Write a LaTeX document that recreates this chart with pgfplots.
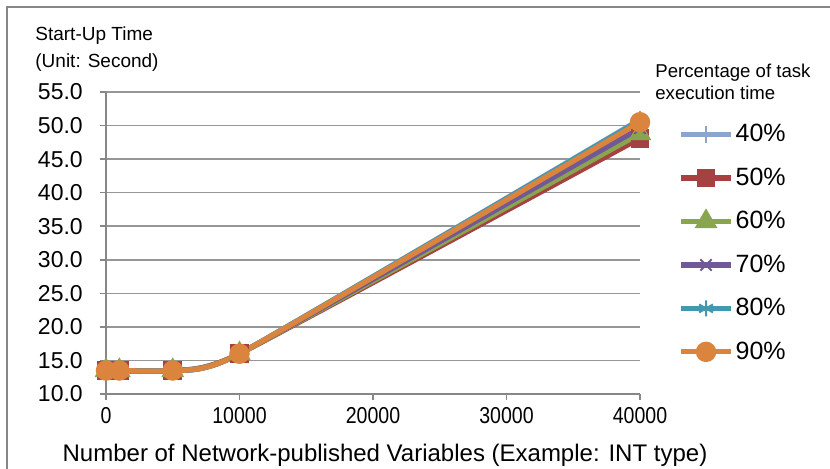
\documentclass[border=0pt]{standalone}
\usepackage{fontspec}
\setmainfont{Liberation Sans}
\newfontfamily\narrowfont[FakeStretch=0.85]{Liberation Sans}
\usepackage{pgfplots}
\pgfplotsset{compat=1.18}
\definecolor{cA}{RGB}{140,165,205}
\definecolor{cB}{RGB}{165,65,65}
\definecolor{cC}{RGB}{137,165,78}
\definecolor{cD}{RGB}{113,88,150}
\definecolor{cE}{RGB}{65,152,175}
\definecolor{cF}{RGB}{219,132,61}
\definecolor{gridc}{RGB}{150,150,150}
\definecolor{axc}{RGB}{135,135,135}
\begin{document}
\begin{tikzpicture}
\useasboundingbox (0,0) rectangle (415pt,234.5pt);
\draw[axc, line width=0.8pt] (3.5pt,-2pt) -- (3.5pt,231pt) -- (420pt,231pt);
\begin{axis}[
  at={(53pt,37.5pt)}, anchor=south west,
  width=267pt, height=151pt, scale only axis,
  xmin=0, xmax=40000, ymin=10, ymax=55,
  xtick={0,10000,20000,30000,40000},
  ytick={10,15,20,25,30,35,40,45,50,55},
  axis x line*=bottom, axis y line*=left,
  axis line style={axc, line width=0.8pt, -},
  ymajorgrids, grid style={gridc, line width=0.8pt},
  tick style={axc, line width=0.8pt},
  tick align=outside, major tick length=3pt,
  scaled x ticks=false,
  xticklabel style={font=\narrowfont\fontsize{11.5}{13}\selectfont, /pgf/number format/fixed, /pgf/number format/set thousands separator={}, /pgf/number format/assume math mode=true},
  yticklabel style={font=\fontsize{11.5}{13}\selectfont, anchor=east, xshift=-5.1pt, /pgf/number format/fixed, /pgf/number format/fixed zerofill, /pgf/number format/precision=1, /pgf/number format/assume math mode=true},
  legend style={at={(1.06,0.914)}, anchor=north west, draw=none, fill=none,
    font=\fontsize{12.5}{14}\selectfont, row sep=9.5pt,
    nodes={inner sep=1pt}},
  legend cell align=left,
  legend image code/.code={\draw[mark repeat=2,mark phase=2,#1] plot coordinates {(0pt,0pt) (12.5pt,0pt) (25pt,0pt)};},
  every axis plot/.append style={line width=2.6pt, smooth, tension=0.3},
  clip=false,
]
\addplot[cA, mark=+, mark options={line width=1pt, scale=2.2}] coordinates {(0,13.5) (1000,13.5) (5000,13.5) (10000,16.0) (40000,50.9)};
\addlegendentry{40\%}
\addplot[cB, mark=square*, mark options={scale=1.7}] coordinates {(0,13.5) (1000,13.5) (5000,13.5) (10000,16.0) (40000,48.1)};
\addlegendentry{50\%}
\addplot[cC, mark=triangle*, mark options={scale=2.0}] coordinates {(0,13.5) (1000,13.5) (5000,13.5) (10000,16.0) (40000,48.8)};
\addlegendentry{60\%}
\addplot[cD, mark=x, mark options={line width=1pt, scale=2.0}] coordinates {(0,13.5) (1000,13.5) (5000,13.5) (10000,16.0) (40000,49.6)};
\addlegendentry{70\%}
\addplot[cE, mark=asterisk, mark options={line width=1pt, scale=2.0}] coordinates {(0,13.5) (1000,13.5) (5000,13.5) (10000,16.0) (40000,50.8)};
\addlegendentry{80\%}
\addplot[cF, mark=*, mark options={scale=1.9}] coordinates {(0,13.5) (1000,13.5) (5000,13.5) (10000,16.0) (40000,50.5)};
\addlegendentry{90\%}
\end{axis}
\node[anchor=north west, align=left, inner sep=0pt, font=\fontsize{9.5}{13.5}\selectfont] at (17.5pt,221.5pt) {Start-Up Time\\(Unit: Second)};
\node[anchor=north west, align=left, inner sep=0pt, font=\fontsize{9.3}{11}\selectfont] at (327.5pt,202.5pt) {Percentage of task\\execution time};
\node[anchor=center, inner sep=0pt, font=\fontsize{12}{13}\selectfont] at (192.5pt,7pt) {Number of Network-published Variables (Example: INT type)};
\end{tikzpicture}
\end{document}
